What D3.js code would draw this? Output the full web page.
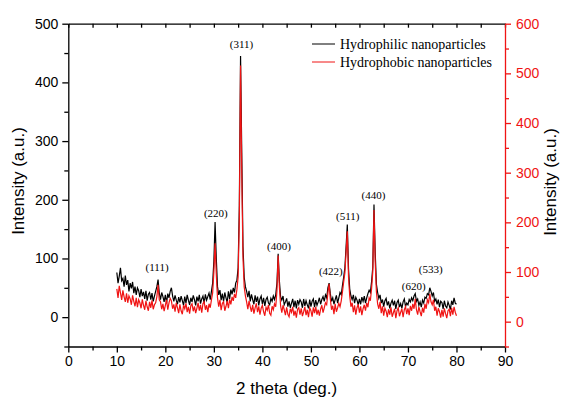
<!DOCTYPE html>
<html>
<head>
<meta charset="utf-8">
<script src="https://cdn.jsdelivr.net/npm/d3@7"></script>
<style>
  body { margin: 0; background: #fff; }
</style>
</head>
<body>
<svg id="xrd" width="561" height="399"></svg>
<script>

// 2 theta sample positions (deg.)
const twoTheta = [
  10,10.25,10.5,10.75,11,11.25,11.5,11.75,
  12,12.25,12.5,12.75,13,13.25,13.5,13.75,
  14,14.25,14.5,14.75,15,15.25,15.5,15.75,
  16,16.25,16.5,16.75,17,17.25,17.5,17.75,
  18,18.25,18.5,18.75,19,19.25,19.5,19.75,
  20,20.25,20.5,20.75,21,21.25,21.5,21.75,
  22,22.25,22.5,22.75,23,23.25,23.5,23.75,
  24,24.25,24.5,24.75,25,25.25,25.5,25.75,
  26,26.25,26.5,26.75,27,27.25,27.5,27.75,
  28,28.25,28.5,28.75,29,29.25,29.5,29.75,
  30,30.25,30.5,30.75,31,31.25,31.5,31.75,
  32,32.25,32.5,32.75,33,33.25,33.5,33.75,
  34,34.25,34.5,34.75,35,35.25,35.5,35.75,
  36,36.25,36.5,36.75,37,37.25,37.5,37.75,
  38,38.25,38.5,38.75,39,39.25,39.5,39.75,
  40,40.25,40.5,40.75,41,41.25,41.5,41.75,
  42,42.25,42.5,42.75,43,43.25,43.5,43.75,
  44,44.25,44.5,44.75,45,45.25,45.5,45.75,
  46,46.25,46.5,46.75,47,47.25,47.5,47.75,
  48,48.25,48.5,48.75,49,49.25,49.5,49.75,
  50,50.25,50.5,50.75,51,51.25,51.5,51.75,
  52,52.25,52.5,52.75,53,53.25,53.5,53.75,
  54,54.25,54.5,54.75,55,55.25,55.5,55.75,
  56,56.25,56.5,56.75,57,57.25,57.5,57.75,
  58,58.25,58.5,58.75,59,59.25,59.5,59.75,
  60,60.25,60.5,60.75,61,61.25,61.5,61.75,
  62,62.25,62.5,62.75,63,63.25,63.5,63.75,
  64,64.25,64.5,64.75,65,65.25,65.5,65.75,
  66,66.25,66.5,66.75,67,67.25,67.5,67.75,
  68,68.25,68.5,68.75,69,69.25,69.5,69.75,
  70,70.25,70.5,70.75,71,71.25,71.5,71.75,
  72,72.25,72.5,72.75,73,73.25,73.5,73.75,
  74,74.25,74.5,74.75,75,75.25,75.5,75.75,
  76,76.25,76.5,76.75,77,77.25,77.5,77.75,
  78,78.25,78.5,78.75,79,79.25,79.5,79.75,
  80
];

// hydrophilic pattern, left axis (a.u.)
const hydrophilic = [
  76,58,70,84, 62,66,52,71,
  55,63,44,58, 49,60,41,52,
  38,50,45,34, 48,36,43,31,
  45,28,39,42, 30,41,27,36,
  44,52,64,41, 30,42,35,26,
  38,24,40,33, 44,50,36,27,
  37,29,22,34, 25,36,28,20,
  35,24,38,29, 21,33,26,37,
  30,20,35,27, 38,23,31,36,
  24,39,29,35, 41,30,44,58,
  95,162,100,52, 38,46,29,40,
  27,42,33,25, 44,31,47,39,
  50,42,58,63, 84,190,445,280,
  120,68,52,44, 34,45,27,39,
  30,22,37,26, 35,20,31,36,
  22,33,19,30, 34,24,21,32,
  27,36,30,38, 58,108,62,35,
  29,36,21,26, 32,18,27,16,
  24,31,17,28, 15,29,22,30,
  26,16,31,19, 28,21,15,30,
  18,27,31,17, 29,20,26,33,
  22,30,35,27, 38,33,50,58,
  40,27,33,22, 30,37,24,33,
  42,38,54,68, 84,120,158,82,
  48,36,30,38, 24,34,29,21,
  31,22,34,27, 36,24,33,40,
  46,42,60,85, 192,110,56,42,
  32,38,24,30, 18,28,32,20,
  27,15,24,29, 20,28,14,25,
  29,17,23,15, 26,31,18,24,
  21,30,26,33, 28,36,40,27,
  31,20,26,17, 29,24,34,32,
  40,38,50,44, 36,42,27,31,
  22,30,17,27, 25,14,28,19,
  16,26,20,13, 28,21,33,24,
  22
];

// hydrophobic pattern, right axis (a.u.)
const hydrophobic = [
  66,48,72,58, 44,63,50,40,
  57,38,52,46, 34,53,41,31,
  48,29,44,38, 27,45,33,24,
  42,30,22,40, 28,43,25,34,
  38,50,74,44, 40,25,36,21,
  33,44,24,38, 47,42,26,35,
  20,38,28,17, 35,22,15,33,
  26,37,19,30, 16,32,36,21,
  31,17,27,38, 22,34,18,36,
  40,24,33,19, 36,28,44,58,
  100,158,95,48, 30,44,23,37,
  40,22,31,42, 27,45,35,50,
  42,56,48,65, 90,210,516,300,
  130,70,52,40, 25,42,30,20,
  34,16,28,37, 19,31,14,27,
  33,20,12,29, 23,34,17,13,
  31,24,36,30, 62,133,70,32,
  18,33,24,13, 29,15,10,26,
  19,30,12,22, 8,25,28,14,
  27,11,20,30, 13,24,9,28,
  22,10,29,17, 30,14,24,12,
  25,33,18,28, 38,34,58,76,
  46,24,32,15, 36,20,28,37,
  30,42,60,80, 98,140,182,90,
  52,30,38,19, 33,14,28,35,
  18,31,13,26, 34,22,38,29,
  48,42,66,100, 225,120,60,36,
  26,40,17,31, 12,27,21,9,
  25,14,29,10, 18,26,7,22,
  28,11,19,26, 9,24,30,15,
  27,13,32,22, 36,26,46,24,
  14,30,20,11, 28,18,36,26,
  44,38,56,40, 34,44,22,30,
  12,27,20,8, 24,10,27,16,
  7,22,25,11, 28,14,30,19,
  12
];

const seriesNames = ['Hydrophilic nanoparticles', 'Hydrophobic nanoparticles'];

// Miller index labels, placed in 2 theta / left-axis units
const peakLabels = ['(111)', '(220)', '(311)', '(400)', '(422)', '(511)', '(440)', '(620)', '(533)'];
const peakLabelAngle = [18.3, 30.4, 35.7, 43.4, 54.1, 57.6, 62.9, 71.2, 74.7];
const peakLabelIntensity = [79, 170, 459, 115, 72, 165, 202, 46, 75];

const xTicks = [0, 10, 20, 30, 40, 50, 60, 70, 80, 90];
const xMinorTicks = [5, 15, 25, 35, 45, 55, 65, 75, 85];
const leftTicks = [0, 100, 200, 300, 400, 500];
const leftMinorTicks = [-50, 50, 150, 250, 350, 450];
const rightTicks = [0, 100, 200, 300, 400, 500, 600];
const rightMinorTicks = [-50, 50, 150, 250, 350, 450, 550];

const plot = { left: 68.3, right: 505, top: 23.7, bottom: 346.5 };
const red = '#f01414';

const svg = d3.select('#xrd');

const x = d3.scaleLinear().domain([0, 90]).range([plot.left, plot.right]);
const yLeft = d3.scaleLinear().domain([-50, 500]).range([plot.bottom, plot.top]);
const yRight = d3.scaleLinear().domain([-50, 600]).range([plot.bottom, plot.top]);

const tickFont = 'Liberation Sans, Arial, sans-serif';
const serif = 'Liberation Serif, Times New Roman, serif';

// data lines
const lineLeft = d3.line().x((d, i) => x(twoTheta[i])).y((d) => yLeft(d));
const lineRight = d3.line().x((d, i) => x(twoTheta[i])).y((d) => yRight(d));

svg.append('path')
  .attr('d', lineLeft(hydrophilic))
  .attr('fill', 'none')
  .attr('stroke', '#000')
  .attr('stroke-width', 1.2);

svg.append('path')
  .attr('d', lineRight(hydrophobic))
  .attr('fill', 'none')
  .attr('stroke', red)
  .attr('stroke-width', 1.2);

// axes
function styleAxis(g, color, size) {
  g.selectAll('path, line').attr('stroke', color).attr('stroke-width', 1.3);
  g.selectAll('text')
    .attr('fill', color)
    .style('font-family', tickFont)
    .style('font-size', size + 'px');
}

const bottomAxis = svg.append('g')
  .attr('transform', `translate(0, ${plot.bottom})`)
  .call(d3.axisBottom(x).tickValues(xTicks).tickSize(6).tickSizeOuter(0).tickPadding(4));
styleAxis(bottomAxis, '#000', 14);

svg.append('g')
  .attr('transform', `translate(0, ${plot.bottom})`)
  .call(d3.axisBottom(x).tickValues(xMinorTicks).tickSize(4).tickFormat(''))
  .call((g) => g.select('.domain').remove())
  .call((g) => styleAxis(g, '#000', 14));

const topAxis = svg.append('g')
  .attr('transform', `translate(0, ${plot.top})`)
  .call(d3.axisBottom(x).tickValues(xTicks.concat(xMinorTicks)).tickSize(4).tickSizeOuter(0).tickFormat(''));
styleAxis(topAxis, '#000', 14);

const leftAxis = svg.append('g')
  .attr('transform', `translate(${plot.left}, 0)`)
  .call(d3.axisLeft(yLeft).tickValues(leftTicks).tickSize(6).tickSizeOuter(0).tickPadding(4));
styleAxis(leftAxis, '#000', 14);

svg.append('g')
  .attr('transform', `translate(${plot.left}, 0)`)
  .call(d3.axisLeft(yLeft).tickValues(leftMinorTicks).tickSize(4).tickFormat(''))
  .call((g) => g.select('.domain').remove())
  .call((g) => styleAxis(g, '#000', 14));

const rightAxis = svg.append('g')
  .attr('transform', `translate(${plot.right}, 0)`)
  .call(d3.axisRight(yRight).tickValues(rightTicks).tickSize(6).tickSizeOuter(0).tickPadding(5));
styleAxis(rightAxis, red, 14);

svg.append('g')
  .attr('transform', `translate(${plot.right}, 0)`)
  .call(d3.axisRight(yRight).tickValues(rightMinorTicks).tickSize(4).tickFormat(''))
  .call((g) => g.select('.domain').remove())
  .call((g) => styleAxis(g, red, 14));

// axis titles
svg.append('text')
  .attr('transform', 'translate(24, 181) rotate(-90)')
  .attr('text-anchor', 'middle')
  .style('font-family', tickFont)
  .style('font-size', '17px')
  .text('Intensity (a.u.)');

svg.append('text')
  .attr('transform', 'translate(556, 182) rotate(-90)')
  .attr('text-anchor', 'middle')
  .style('font-family', tickFont)
  .style('font-size', '17px')
  .text('Intensity (a.u.)');

svg.append('text')
  .attr('x', (plot.left + plot.right) / 2)
  .attr('y', 394)
  .attr('text-anchor', 'middle')
  .style('font-family', tickFont)
  .style('font-size', '17px')
  .text('2 theta (deg.)');

// peak labels
svg.selectAll('text.peak')
  .data(peakLabels)
  .enter()
  .append('text')
  .attr('class', 'peak')
  .attr('x', (d, i) => x(peakLabelAngle[i]))
  .attr('y', (d, i) => yLeft(peakLabelIntensity[i]))
  .attr('text-anchor', 'middle')
  .style('font-family', serif)
  .style('font-size', '11px')
  .text((d) => d);

// legend
const legendColors = ['#000', red];
const legend = svg.selectAll('g.legend')
  .data(seriesNames)
  .enter()
  .append('g')
  .attr('class', 'legend')
  .attr('transform', (d, i) => 'translate(312, ' + (44 + i * 18) + ')');

legend.append('line')
  .attr('x1', 0)
  .attr('x2', 23)
  .attr('stroke', (d, i) => legendColors[i])
  .attr('stroke-width', 1);

legend.append('text')
  .attr('x', 28)
  .attr('y', 4.5)
  .style('font-family', serif)
  .style('font-size', '14px')
  .text((d) => d);

</script>
</body>
</html>
